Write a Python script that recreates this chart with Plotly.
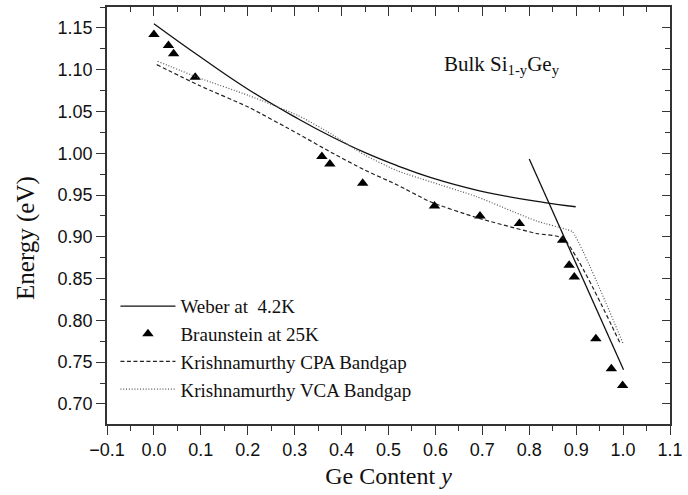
import plotly.graph_objects as go

# Weber at 4.2K (Si-like branch, then Ge-like branch)
weber_x = [0.0, 0.097, 0.202, 0.308, 0.378, 0.449, 0.519, 0.589, 0.694, 0.833, 0.899,
           None, 0.800, 1.001]
weber_y = [1.155, 1.116, 1.076, 1.041, 1.020, 1.001, 0.985, 0.971, 0.955, 0.941, 0.936,
           None, 0.993, 0.741]

# Braunstein at 25K
braun_x = [0.0, 0.031, 0.042, 0.088, 0.358, 0.375, 0.445, 0.598, 0.695, 0.779,
           0.871, 0.885, 0.896, 0.942, 0.975, 0.999]
braun_y = [1.142, 1.129, 1.119, 1.091, 0.996, 0.987, 0.964, 0.937, 0.925, 0.916,
           0.896, 0.866, 0.852, 0.778, 0.742, 0.722]

# Krishnamurthy CPA bandgap
cpa_x = [0.006, 0.097, 0.202, 0.308, 0.378, 0.449, 0.519, 0.589, 0.688, 0.815, 0.872, 0.995]
cpa_y = [1.106, 1.081, 1.055, 1.023, 1.001, 0.980, 0.962, 0.942, 0.923, 0.904, 0.898, 0.771]

# Krishnamurthy VCA bandgap
vca_x = [0.008, 0.097, 0.202, 0.308, 0.378, 0.449, 0.519, 0.589, 0.688, 0.815, 0.878, 0.892, 1.001]
vca_y = [1.110, 1.090, 1.069, 1.045, 1.023, 0.998, 0.979, 0.966, 0.948, 0.919, 0.909, 0.906, 0.771]

x_range = [-0.1, 1.1]
y_range = [0.676, 1.175]

SERIF = "Liberation Serif, Times New Roman, serif"
SANS = "Liberation Sans, Arial, sans-serif"
AX = "#333333"
TXT = "#111111"

fig = go.Figure()
fig.add_trace(go.Scatter(x=weber_x, y=weber_y, mode="lines", name="Weber at  4.2K",
                         line=dict(color="#111111", width=1.3, shape="spline", smoothing=1.3),
                         connectgaps=False))
fig.add_trace(go.Scatter(x=braun_x, y=braun_y, mode="markers", name="Braunstein at 25K",
                         marker=dict(symbol="triangle-up", size=10, color="black")))
fig.add_trace(go.Scatter(x=cpa_x, y=cpa_y, mode="lines", name="Krishnamurthy CPA Bandgap",
                         line=dict(color="#222222", width=1.2, dash="4px,2.5px",
                                   shape="spline", smoothing=0.6)))
fig.add_trace(go.Scatter(x=vca_x, y=vca_y, mode="lines", name="Krishnamurthy VCA Bandgap",
                         line=dict(color="#555555", width=1.2, dash="1px,1.8px",
                                   shape="spline", smoothing=0.6)))
# invisible trace to carry the mirrored (inside-tick) axes
fig.add_trace(go.Scatter(x=[None], y=[None], xaxis="x2", yaxis="y2", showlegend=False,
                         hoverinfo="skip"))

fig.update_layout(
    width=688, height=495,
    margin=dict(l=107, r=13, t=5, b=71),
    paper_bgcolor="white", plot_bgcolor="white",
    showlegend=True,
    legend=dict(x=0.015, y=0.328, xanchor="left", yanchor="top",
                bgcolor="rgba(0,0,0,0)", borderwidth=0,
                font=dict(family=SERIF, size=19, color=TXT),
                itemwidth=55, tracegroupgap=0),
    xaxis=dict(range=x_range, tick0=-0.1, dtick=0.1, tickformat=".1f",
               ticks="outside", ticklen=9, tickwidth=1.3, tickcolor=AX,
               minor=dict(dtick=0.05, ticks="outside", ticklen=5, tickwidth=1.3, tickcolor=AX),
               showline=True, linewidth=1.6, linecolor=AX, mirror=True,
               showgrid=False, zeroline=False,
               tickfont=dict(family=SANS, size=18, color=TXT),
               title=dict(text="Ge Content <i>y</i>", font=dict(family=SERIF, size=24, color=TXT),
                          standoff=8)),
    yaxis=dict(range=y_range, tick0=0.70, dtick=0.05, tickformat=".2f",
               ticks="outside", ticklen=9, tickwidth=1.3, tickcolor=AX,
               minor=dict(dtick=0.025, ticks="outside", ticklen=5, tickwidth=1.3, tickcolor=AX),
               showline=True, linewidth=1.6, linecolor=AX, mirror=True,
               showgrid=False, zeroline=False,
               tickfont=dict(family=SANS, size=18, color=TXT)),
    xaxis2=dict(range=x_range, overlaying="x", side="top", anchor="y2",
                tick0=-0.1, dtick=0.1, showticklabels=False,
                ticks="inside", ticklen=9, tickwidth=1.3, tickcolor=AX,
                minor=dict(dtick=0.05, ticks="inside", ticklen=5, tickwidth=1.3, tickcolor=AX),
                showline=False, showgrid=False, zeroline=False),
    yaxis2=dict(range=y_range, overlaying="y", side="right", anchor="x2",
                tick0=0.70, dtick=0.05, showticklabels=False,
                ticks="inside", ticklen=8, tickwidth=1.3, tickcolor=AX,
                minor=dict(dtick=0.025, ticks="inside", ticklen=5, tickwidth=1.3, tickcolor=AX),
                showline=False, showgrid=False, zeroline=False),
    annotations=[
        dict(text="Bulk Si<sub>1-y</sub>Ge<sub>y</sub>", xref="paper", yref="paper",
             x=0.595, y=0.862, xanchor="left", yanchor="middle", showarrow=False,
             font=dict(family=SERIF, size=21, color=TXT)),
        dict(text="Energy (eV)", xref="paper", yref="paper", textangle=-90,
             x=-0.144, y=0.446, xanchor="center", yanchor="middle", showarrow=False,
             font=dict(family=SERIF, size=25, color=TXT)),
    ],
)

fig.write_html("out.html")
